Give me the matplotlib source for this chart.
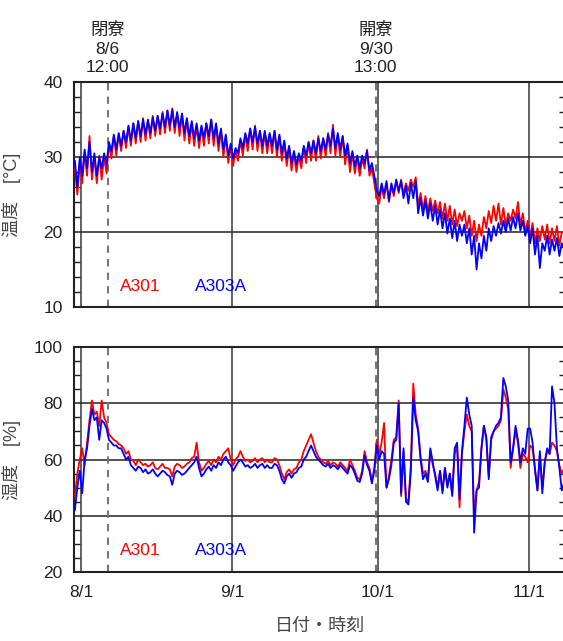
import pandas as pd
import matplotlib
matplotlib.use('Agg')
import matplotlib.pyplot as plt
from matplotlib.ticker import MultipleLocator, NullFormatter
from matplotlib.transforms import blended_transform_factory

plt.rcParams['font.family'] = ['Liberation Sans', 'Noto Sans CJK JP', 'DejaVu Sans']

# readings every 12 h (06:00 / 18:00) from 7/30 18:00 to 11/8 06:00
start = '2021-07-30 18:00'

# temperature [°C]
temp_a301 = [28.5,
    25.0, 29.0, 26.5, 30.5, 27.5, 32.8, 27.0, 30.0, 26.5, 30.2, 27.0, 30.0,   # 7/31-8/5
    27.8, 31.8, 29.8, 32.8, 30.2, 33.0, 30.8, 33.5, 31.2, 34.0, 31.5, 34.5,   # 8/6-8/11
    31.8, 34.8, 32.0, 35.2, 32.2, 34.8, 32.5, 35.5, 32.8, 35.5, 33.0, 36.0,   # 8/12-8/17
    33.2, 36.2, 33.5, 36.5, 33.2, 35.8, 32.8, 35.8, 32.2, 35.0, 31.8, 34.5,   # 8/18-8/23
    31.5, 34.2, 31.2, 34.0, 31.5, 34.5, 31.8, 35.0, 31.5, 34.2, 30.8, 33.5,   # 8/24-8/29
    30.0, 32.8, 29.2, 31.5, 28.8, 31.0, 29.5, 32.2, 30.2, 33.0, 30.8, 33.8,   # 8/30-9/4
    31.0, 34.2, 30.8, 33.5, 30.5, 33.2, 30.5, 33.0, 30.5, 33.5, 30.0, 32.8,   # 9/5-9/10
    29.5, 32.0, 28.8, 31.2, 28.2, 30.5, 28.0, 30.2, 28.5, 31.2, 29.2, 32.0,   # 9/11-9/16
    29.5, 32.2, 29.5, 32.8, 29.8, 32.5, 30.0, 33.2, 30.5, 34.3, 30.2, 33.0,   # 9/17-9/22
    30.0, 32.8, 29.0, 31.5, 28.0, 30.5, 27.8, 30.0, 27.5, 29.8, 28.5, 31.0,   # 9/23-9/28
    27.5, 28.5, 26.5, 24.5, 23.8, 26.0, 24.5, 26.5, 24.0, 26.2, 24.8, 26.8,   # 9/29-10/4
    25.2, 27.0, 25.0, 26.5, 25.5, 27.0, 26.0, 27.3, 23.5, 25.2, 23.0, 24.8,   # 10/5-10/10
    22.8, 24.5, 22.8, 24.2, 22.5, 24.0, 21.8, 23.8, 21.5, 23.5, 21.0, 23.0,   # 10/11-10/16
    20.8, 22.5, 21.5, 22.8, 20.5, 22.2, 19.5, 21.5, 18.8, 21.0, 19.5, 22.0,   # 10/17-10/22
    20.5, 22.8, 21.2, 23.5, 21.5, 23.8, 21.0, 23.2, 20.8, 22.5, 21.5, 23.0,   # 10/23-10/28
    21.8, 24.0, 21.0, 22.5, 20.0, 21.5, 19.5, 21.2, 18.5, 20.5, 18.8, 20.8,   # 10/29-11/3
    19.0, 21.0, 18.5, 20.5, 18.8, 20.8, 18.2, 20.0, 19.8]                     # 11/4-11/8

temp_a303a = [29.5,
    26.0, 30.0, 27.5, 31.0, 28.5, 32.0, 28.0, 30.5, 27.5, 30.0, 28.5, 30.5,
    29.0, 32.0, 30.8, 33.0, 31.0, 33.2, 31.5, 33.5, 32.0, 34.2, 32.2, 34.5,
    32.5, 34.8, 32.8, 35.0, 33.0, 35.0, 33.2, 35.3, 33.5, 35.5, 33.8, 35.8,
    34.0, 36.2, 34.2, 36.3, 34.0, 36.0, 33.8, 35.8, 33.2, 35.2, 32.8, 34.8,
    32.5, 34.5, 32.2, 34.2, 32.5, 34.5, 32.8, 35.0, 32.5, 34.5, 31.8, 33.8,
    31.0, 33.0, 30.2, 31.8, 29.8, 31.2, 30.5, 32.5, 31.2, 33.2, 31.8, 33.8,
    32.0, 34.0, 31.8, 33.5, 31.5, 33.5, 31.5, 33.2, 31.5, 33.5, 31.0, 33.0,
    30.5, 32.2, 29.8, 31.5, 29.2, 30.8, 29.0, 30.5, 29.5, 31.5, 30.2, 32.0,
    30.5, 32.2, 30.5, 32.5, 30.8, 32.5, 31.0, 33.0, 31.5, 33.8, 31.2, 33.2,
    31.0, 32.8, 30.2, 31.8, 29.2, 30.8, 28.8, 30.2, 28.5, 30.2, 29.2, 30.8,
    28.2, 29.2, 27.5, 25.5, 24.8, 26.5, 25.0, 26.8, 24.2, 26.5, 25.2, 27.0,
    25.5, 26.8, 24.5, 26.2, 23.8, 26.5, 24.5, 26.8, 22.5, 24.5, 22.2, 24.2,
    21.8, 23.8, 21.5, 23.5, 21.0, 23.0, 20.5, 22.5, 19.8, 21.8, 19.2, 21.5,
    18.8, 21.0, 19.5, 21.0, 18.5, 20.5, 17.0, 19.5, 15.0, 18.5, 16.5, 19.5,
    17.5, 20.5, 18.8, 20.8, 19.5, 21.2, 19.8, 21.5, 20.0, 21.8, 20.2, 22.0,
    20.5, 22.5, 20.2, 21.5, 19.5, 20.8, 18.5, 20.5, 17.0, 19.5, 15.2, 18.5,
    17.5, 19.5, 17.0, 19.0, 17.5, 19.2, 16.8, 18.5, 17.8]

# relative humidity [%]
hum_a301 = [47,
    55, 60, 64, 58, 66, 74, 81, 76, 77, 72, 81, 75,
    73, 69, 68, 67, 66.5, 65.5, 65, 64, 62, 63, 60, 59.5,
    58, 60, 59, 58, 58.5, 57.5, 58, 59, 57, 56.5, 57.5, 58.5,
    57, 57, 56.5, 54, 57.5, 58.5, 58, 57, 57.5, 58.5, 59, 60.5,
    61, 66, 59, 56, 57, 58.5, 59.5, 58, 60, 59, 61, 60,
    62, 63, 64, 60, 58, 60, 61, 63, 61, 59.5, 60, 59,
    59.5, 60.5, 59, 60, 60.5, 59, 60, 59, 59, 60.5, 60, 58,
    55, 53, 55.5, 56.5, 55, 56.5, 57, 59, 60, 63, 65, 67,
    69, 66, 63, 61, 60, 59, 58.5, 59.5, 58, 59, 58.5, 57.5,
    59, 58, 57, 56, 60, 58, 56, 53.5, 53, 56, 63, 59,
    57, 52.5, 57, 67, 62, 66, 73, 50, 54, 60, 67, 68,
    81, 47, 63, 46, 45, 58, 87, 76, 71, 61, 55, 56,
    53, 63, 58, 55, 50, 56, 49, 57, 51, 55, 48, 62,
    65, 43, 62, 70, 76, 72, 70, 40, 49, 52, 64, 72,
    67, 54, 67, 70, 71, 72, 74, 85, 82, 78, 57, 64,
    70, 66, 57, 62, 61, 59, 65, 64, 57, 49, 62, 50,
    59, 63, 62, 66, 65, 63, 58, 55, 57]

hum_a303a = [42,
    50, 56, 48, 60, 64, 72, 78, 74, 75, 67, 74, 73,
    71, 67, 66, 65, 65, 64, 64, 62, 60, 61, 58, 57,
    56, 57.5, 57, 55.5, 56.5, 55, 55.5, 56.5, 55, 54, 55, 56,
    55.5, 54.5, 54, 51, 55, 56, 55.5, 54.5, 55, 56, 57, 58,
    59, 61, 57, 54, 55, 56.5, 57.5, 56, 58, 57, 59, 58,
    60, 61, 59, 58, 56, 57.5, 59, 60, 59, 57.5, 58, 57,
    57.5, 58.5, 57, 58, 58.5, 57, 58, 57, 57, 58.5, 58, 56,
    53, 51.5, 54, 55, 53.5, 55, 55.5, 57, 57.5, 60, 61, 63,
    65, 63, 61, 60, 59, 58, 57.5, 58.5, 57, 58, 57.5, 56.5,
    58, 57, 56, 55, 58, 57, 55, 52.5, 52, 55, 61.5, 58,
    56, 51.5, 56, 65, 60, 63, 62, 50, 53, 58, 66, 67,
    80, 48, 64, 45, 44, 56, 82, 74, 70, 60, 53, 55,
    52, 64, 59, 54, 49, 56, 48, 57, 50, 55, 47, 64,
    66, 46, 63, 72, 82, 76, 72, 34, 49, 50, 64, 72,
    68, 53, 68, 70, 72, 73, 75, 89, 86, 81, 59, 64,
    72, 67, 59, 64, 62, 71, 71, 66, 56, 49, 63, 48,
    59, 64, 62, 86, 80, 64, 57, 49, 52]

month_ticks = ['2021-08-01', '2021-09-01', '2021-10-01', '2021-11-01']
month_labels = ['8/1', '9/1', '10/1', '11/1']
events = ['2021-08-06 12:00', '2021-09-30 13:00']
event_labels = ['閉寮\n8/6\n12:00', '開寮\n9/30\n13:00']

t = pd.date_range(start, periods=len(temp_a301), freq='12h')

fig = plt.figure(figsize=(5.63, 6.41), dpi=100)
ax1 = fig.add_axes([0.1314, 0.521, 0.8722, 0.351])
ax2 = fig.add_axes([0.1314, 0.1076, 0.8722, 0.351])

xmin = pd.Timestamp('2021-07-30 13:30')
xmax = pd.Timestamp('2021-11-08 10:00')
tc = '#222222'

panels = [
    (ax1, temp_a301, temp_a303a, (10, 40), 10, 2, [20, 30], '温度　[°C]', 12.7),
    (ax2, hum_a301, hum_a303a, (20, 100), 20, 5, [40, 60, 80], '湿度　[%]', 27.5),
]

for ax, red, blue, ylim, major, minor, hlines, ylabel, label_y in panels:
    ax.plot(t, red, color='#ff0000', lw=1.3, zorder=3)
    ax.plot(t, blue, color='#0000ff', lw=1.3, zorder=4)
    ax.set_xlim(xmin, xmax)
    ax.set_ylim(*ylim)
    for m in month_ticks:
        ax.axvline(pd.Timestamp(m), color='#555555', lw=1.3, zorder=1)
    for h in hlines:
        ax.axhline(h, color='#222222', lw=1.1, zorder=1)
    for e in events:
        ax.axvline(pd.Timestamp(e), color='#777777', lw=1.5,
                   linestyle=(0, (3.5, 3)), zorder=2)
    ax.yaxis.set_major_locator(MultipleLocator(major))
    ax.yaxis.set_minor_locator(MultipleLocator(minor))
    ax.tick_params(axis='y', which='major', length=0, pad=8,
                   labelsize=12.5, labelcolor=tc)
    ax.tick_params(axis='y', which='minor', direction='in', length=4,
                   width=1, left=True, right=True, color='#222222')
    ax.set_xticks([pd.Timestamp(m) for m in month_ticks])
    ax.set_xticks([], minor=True)
    ax.tick_params(axis='x', length=0, pad=9, labelsize=12.5, labelcolor=tc)
    for s in ax.spines.values():
        s.set_linewidth(1.5)
        s.set_color('#222222')
    ax.set_ylabel(ylabel, fontsize=13, color='#444444')
    ax.yaxis.set_label_coords(-0.108, 0.5)
    ax.text(pd.Timestamp('2021-08-09'), label_y, 'A301', color='#ff0000',
            fontsize=12.5, va='center', ha='left', zorder=5)
    ax.text(pd.Timestamp('2021-08-24 10:00'), label_y, 'A303A', color='#0000ff',
            fontsize=12.5, va='center', ha='left', zorder=5)

ax1.xaxis.set_major_formatter(NullFormatter())
ax2.set_xticklabels(month_labels)
ax2.set_xlabel('日付・時刻', fontsize=13, color='#444444')
ax2.xaxis.set_label_coords(0.5, -0.205)

trans = blended_transform_factory(ax1.transData, ax1.transAxes)
for e, lab in zip(events, event_labels):
    ax1.text(pd.Timestamp(e), 1.03, lab, transform=trans, ha='center',
             va='bottom', fontsize=12.5, color=tc, linespacing=1.3)

fig.savefig('out.png', dpi=100)
